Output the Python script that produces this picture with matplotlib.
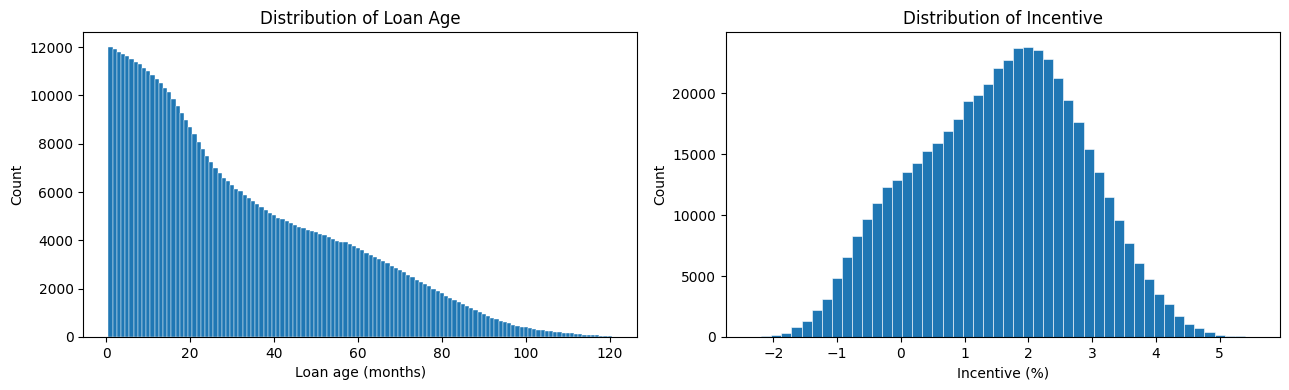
import matplotlib.pyplot as plt
import numpy as np

# Loan age histogram: one bin per month, 1..120
loan_age_months = np.arange(1, 121)
loan_age_counts = [
    12010, 11915, 11805, 11720, 11610, 11520, 11395, 11310, 11150, 11025,
    10860, 10690, 10530, 10320, 10120, 9870, 9580, 9290, 9000, 8700,
    8410, 8070, 7780, 7490, 7240, 6990, 6780, 6590, 6450, 6290,
    6120, 6035, 5870, 5745, 5620, 5495, 5370, 5245, 5125, 5040,
    4945, 4875, 4790, 4710, 4625, 4570, 4515, 4445, 4375, 4335,
    4250, 4210, 4130, 4060, 3990, 3950, 3920, 3830, 3750, 3670,
    3590, 3465, 3383, 3300, 3217, 3134, 3051, 2941, 2844, 2761,
    2678, 2554, 2471, 2374, 2264, 2181, 2098, 1974, 1891, 1809,
    1712, 1601, 1518, 1436, 1353, 1270, 1187, 1110, 1022, 939,
    856, 773, 732, 663, 608, 566, 483, 450, 430, 400,
    370, 340, 310, 285, 260, 240, 215, 195, 175, 160,
    145, 130, 115, 100, 90, 80, 70, 60, 50, 40,
]

# Incentive histogram: 50 bins
incentive_lo, incentive_hi = -2.35, 5.55
incentive_counts = [
    40, 60, 190, 330, 820, 1310, 2220, 3120, 4840, 6570,
    8290, 9690, 11000, 12310, 12890, 13540, 14280, 15270, 15920, 16910,
    17890, 19320, 19860, 20790, 22080, 22740, 23690, 23800, 23560, 22820,
    21230, 19450, 17650, 15430, 13540, 11490, 9600, 7720, 6070, 4760,
    3530, 2710, 1720, 1070, 740, 410, 190, 80, 60, 0,
]

fig = plt.figure(figsize=(12.89, 3.9), dpi=100)
ax1 = fig.add_axes([0.0646, 0.1359, 0.4296, 0.7813])
ax2 = fig.add_axes([0.5632, 0.1359, 0.4298, 0.7813])

# left: loan age
age_edges = np.append(loan_age_months - 0.5, loan_age_months[-1] + 0.5)
ax1.hist(loan_age_months, bins=age_edges, weights=loan_age_counts,
         color='#1f77b4', edgecolor='white', linewidth=0.3)
ax1.set_title('Distribution of Loan Age')
ax1.set_xlabel('Loan age (months)')
ax1.set_ylabel('Count')

# right: incentive
inc_edges = np.linspace(incentive_lo, incentive_hi, len(incentive_counts) + 1)
inc_centers = (inc_edges[:-1] + inc_edges[1:]) / 2
ax2.hist(inc_centers, bins=inc_edges, weights=incentive_counts,
         color='#1f77b4', edgecolor='white', linewidth=0.4)
ax2.set_title('Distribution of Incentive')
ax2.set_xlabel('Incentive (%)')
ax2.set_ylabel('Count')

plt.savefig('out.png', dpi=100)
